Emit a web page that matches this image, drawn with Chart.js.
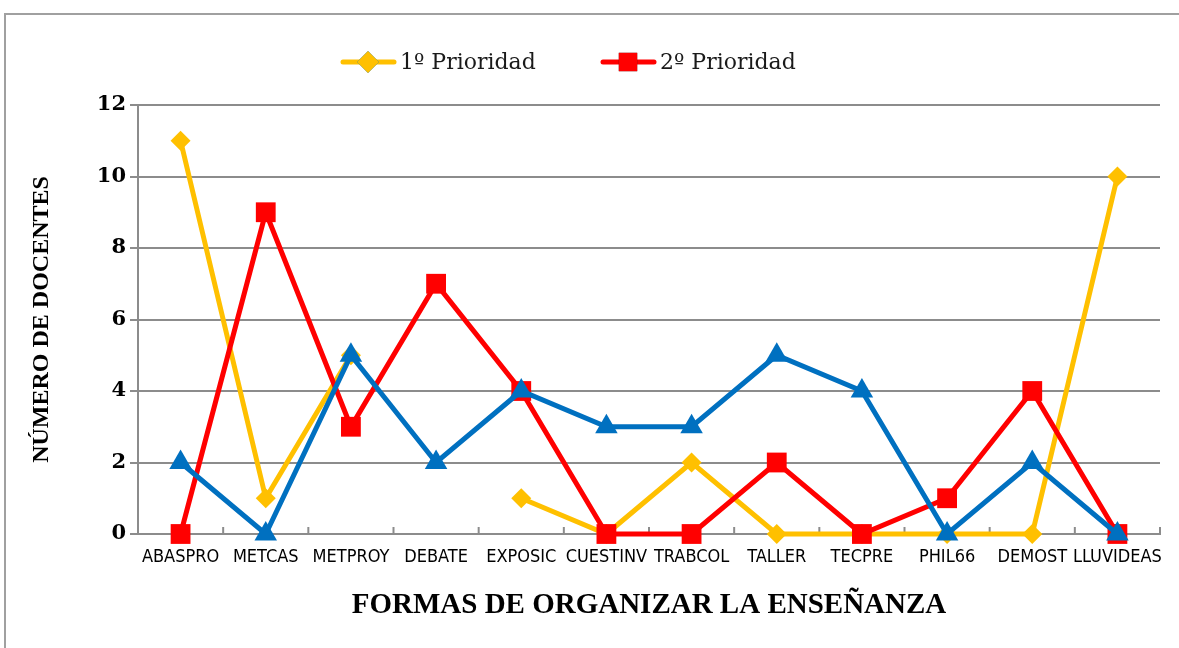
<!DOCTYPE html>
<html>
<head>
<meta charset="utf-8">
<script src="https://cdn.jsdelivr.net/npm/chart.js@4"></script>
<style>
  html, body { margin: 0; padding: 0; background: #fff; }
  #wrap { width: 1179px; height: 648px; }
</style>
</head>
<body>
<div id="wrap"><canvas id="chart" width="1179" height="648"></canvas></div>
<script>
// categorias (formas de organizar la enseñanza)
const categorias = ['ABASPRO', 'METCAS', 'METPROY', 'DEBATE', 'EXPOSIC', 'CUESTINV',
  'TRABCOL', 'TALLER', 'TECPRE', 'PHIL66', 'DEMOST', 'LLUVIDEAS'];

const prioridad1 = [11, 1, 5, null, 1, 0, 2, 0, 0, 0, 0, 10];
const prioridad2 = [0, 9, 3, 7, 4, 0, 0, 2, 0, 1, 4, 0];
const prioridad3 = [2, 0, 5, 2, 4, 3, 3, 5, 4, 0, 2, 0];

const yTicks = [0, 2, 4, 6, 8, 10, 12];

const AMARILLO = '#FFC000';
const ROJO = '#FF0000';
const AZUL = '#0070C0';
const GRIS = '#8c8c8c';

// marco exterior del grafico
const marco = {
  id: 'marco',
  beforeDraw(chart) {
    const ctx = chart.ctx;
    ctx.save();
    ctx.strokeStyle = '#a0a0a0';
    ctx.lineWidth = 2;
    ctx.strokeRect(5, 14, chart.width + 20, chart.height + 20);
    ctx.restore();
  }
};

// marcas del eje X hacia dentro, entre categorias
const marcasX = {
  id: 'marcasX',
  beforeDatasetsDraw(chart) {
    const x = chart.scales.x;
    const area = chart.chartArea;
    const ctx = chart.ctx;
    ctx.save();
    ctx.strokeStyle = GRIS;
    ctx.lineWidth = 2;
    for (let i = 0; i <= categorias.length; i++) {
      let px;
      if (i === 0) px = area.left;
      else if (i === categorias.length) px = area.right;
      else px = (x.getPixelForValue(i - 1) + x.getPixelForValue(i)) / 2;
      ctx.beginPath();
      ctx.moveTo(px, area.bottom);
      ctx.lineTo(px, area.bottom - 7);
      ctx.stroke();
    }
    ctx.restore();
  }
};

// leyenda con linea y marcador (solo las dos prioridades)
const leyenda = {
  id: 'leyenda',
  afterDraw(chart) {
    const ctx = chart.ctx;
    const y = 62;
    let x = 340;
    ctx.save();
    ctx.font = '22px "DejaVu Serif", serif';
    ctx.textBaseline = 'middle';
    [0, 1].forEach(i => {
      const ds = chart.data.datasets[i];
      ctx.strokeStyle = ds.borderColor;
      ctx.lineWidth = 5;
      ctx.lineCap = 'round';
      ctx.beginPath();
      ctx.moveTo(x + 3, y);
      ctx.lineTo(x + 54, y);
      ctx.stroke();
      Chart.helpers.drawPoint(ctx, {
        pointStyle: ds.pointStyle,
        radius: ds.pointStyle === 'rect' ? 13 : 11,
        rotation: 0,
        borderWidth: 0
      }, x + 28, y);
      ctx.fillStyle = ds.borderColor;
      ctx.fill();
      ctx.fillStyle = '#1a1a1a';
      ctx.fillText(ds.label, x + 60, y + 1);
      x += 260;
    });
    ctx.restore();
  }
};

new Chart(document.getElementById('chart'), {
  type: 'line',
  data: {
    labels: categorias,
    datasets: [
      {
        label: '1º Prioridad',
        data: prioridad1,
        borderColor: AMARILLO,
        backgroundColor: AMARILLO,
        borderWidth: 5,
        pointStyle: 'rectRot',
        pointRadius: 10,
        pointBorderWidth: 0,
        spanGaps: false,
        order: 3
      },
      {
        label: '2º Prioridad',
        data: prioridad2,
        borderColor: ROJO,
        backgroundColor: ROJO,
        borderWidth: 5,
        pointStyle: 'rect',
        pointRadius: 14,
        pointBorderWidth: 0,
        order: 2
      },
      {
        label: '3º Prioridad',
        data: prioridad3,
        borderColor: AZUL,
        backgroundColor: AZUL,
        borderWidth: 5,
        pointStyle: 'triangle',
        pointRadius: 13,
        pointBorderWidth: 0,
        order: 1
      }
    ]
  },
  options: {
    responsive: false,
    animation: false,
    clip: false,
    layout: {
      padding: { left: 20, top: 105, right: 19, bottom: 0 }
    },
    plugins: {
      legend: { display: false },
      tooltip: { enabled: false }
    },
    scales: {
      x: {
        offset: true,
        grid: { display: false, drawTicks: false },
        border: { display: true, color: GRIS, width: 2 },
        ticks: {
          padding: 13,
          color: '#000',
          maxRotation: 0,
          autoSkip: false,
          font: { family: '"Liberation Sans Narrow", "DejaVu Sans Condensed", sans-serif', size: 18 }
        },
        title: {
          display: true,
          text: 'FORMAS DE ORGANIZAR LA ENSEÑANZA',
          color: '#000',
          padding: { top: 0, bottom: 25 },
          font: { family: '"Liberation Serif", serif', size: 29, weight: 'bold' }
        },
        afterFit(scale) { scale.height = 114; }
      },
      y: {
        min: 0,
        max: 12,
        afterBuildTicks(scale) { scale.ticks = yTicks.map(v => ({ value: v })); },
        grid: { color: GRIS, lineWidth: 2, tickLength: 8 },
        border: { display: true, color: GRIS, width: 2 },
        ticks: {
          padding: 4,
          color: '#000',
          font: { family: '"DejaVu Serif", serif', size: 21, weight: 'bold' }
        },
        title: {
          display: true,
          text: 'NÚMERO DE DOCENTES',
          color: '#000',
          padding: { top: 7, bottom: 0 },
          font: { family: '"Liberation Serif", serif', size: 24, weight: 'bold' }
        },
        afterFit(scale) { scale.width = 118; }
      }
    }
  },
  plugins: [marco, marcasX, leyenda]
});
</script>
</body>
</html>
